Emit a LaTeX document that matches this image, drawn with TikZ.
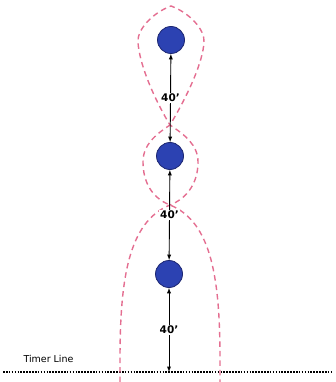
\documentclass[tikz,border=0pt]{standalone}
\usepackage{fontspec}
\setmainfont{DejaVu Sans}
\usetikzlibrary{arrows,positioning}
\definecolor{conepink}{RGB}{228,110,145}
\definecolor{ballblue}{RGB}{44,66,178}
\definecolor{balledge}{RGB}{28,38,112}

\tikzset{
  ball/.style={draw=balledge, circle, fill=ballblue, line width=0.8pt, minimum size=27pt, inner sep=0pt},
  dist/.style={fill=white, inner sep=1pt, font=\bfseries\fontsize{10.5}{12}\selectfont},
  cone/.style={conepink, line width=1.4pt, dash pattern=on 5.5pt off 4pt},
}

\begin{document}
\begin{tikzpicture}[x=1pt,y=-1pt]
\useasboundingbox (0,0) rectangle (335,382);
\node[ball] (B1) at (171,40) {};
\node[ball] (B2) at (170,156) {};
\node[ball] (B3) at (169,274) {};
%============
\coordinate (TL) at (3,372);
\coordinate (TR) at (333,372);
\coordinate (T) at (169,372);
\node[right, font=\fontsize{9.5}{11}\selectfont] (timer) at (20,359) {Timer Line};
\draw[line width=1.6pt, dash pattern=on 1.6pt off 1.3pt] (TL) -- (TR);
%============
\draw[cone] (120,382) -- (120,360) .. controls (120,280) and (128,222) .. (170,205)
  .. controls (188,198) and (198,182) .. (198,162) .. controls (198,145) and (185,135) .. (170,125)
  .. controls (152,95) and (139,62) .. (138,42) .. controls (137,30) and (152,13) .. (171,6)
  .. controls (190,13) and (205,30) .. (204,42) .. controls (203,62) and (188,95) .. (170,125)
  .. controls (155,135) and (143,145) .. (143,162) .. controls (143,182) and (152,198) .. (170,205)
  .. controls (212,222) and (220,280) .. (220,360) -- (220,382);
%============
\draw[<->, line width=0.9pt, >=latex] (B1) -- node[dist] {40'} (B2);
\draw[<->, line width=0.9pt, >=latex] (B2) -- node[dist] {40'} (B3);
\draw[<->, line width=0.9pt, >=latex] (B3) -- node[dist] {40'} (T);
\end{tikzpicture}
\end{document}
